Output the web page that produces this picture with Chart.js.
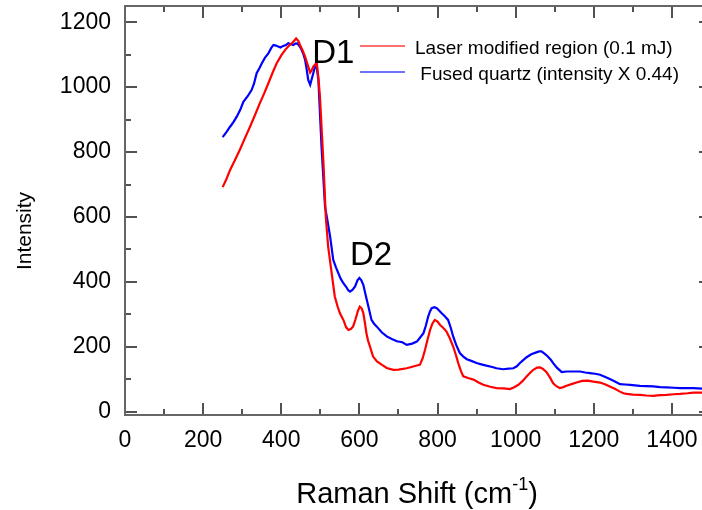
<!DOCTYPE html>
<html>
<head>
<meta charset="utf-8">
<script src="https://cdn.jsdelivr.net/npm/chart.js@4.4.0/dist/chart.umd.min.js"></script>
<style>
    html, body { margin: 0; padding: 0; background: #fff; overflow: hidden; }
    /* a little wider than the window: the right frame sits just off the picture */
    #wrap { width: 716px; height: 510px; position: relative; }
</style>
</head>
<body>
<div id="wrap"><canvas id="raman"></canvas></div>
<script>
// Series (Raman shift in cm-1, intensity)
const laserLabel = 'Laser modified region (0.1 mJ)';
const laserShift = [250, 260, 269, 280, 294, 307, 320, 333, 345, 356, 367, 378, 388, 400, 410, 420, 431, 438, 444, 448, 455, 461, 469, 474, 478, 482, 487, 491, 495, 499, 503, 508, 514, 520, 529, 537, 544, 550, 560, 566, 572, 578, 584, 590, 596, 601, 606, 610, 614, 618, 622, 627, 635, 645, 657, 670, 687, 700, 721, 740, 755, 762, 768, 775, 781, 787, 793, 800, 806, 815, 823, 832, 840, 847, 853, 860, 866, 880, 892, 905, 917, 935, 951, 970, 985, 995, 1007, 1018, 1028, 1037, 1045, 1055, 1062, 1070, 1079, 1088, 1096, 1105, 1113, 1122, 1130, 1145, 1156, 1170, 1185, 1199, 1216, 1230, 1241, 1255, 1267, 1276, 1284, 1300, 1318, 1335, 1352, 1370, 1386, 1405, 1421, 1440, 1455, 1477];
const laserIntensity = [692, 718, 745, 772, 807, 843, 878, 915, 950, 980, 1012, 1045, 1073, 1098, 1115, 1128, 1140, 1150, 1142, 1130, 1112, 1094, 1063, 1045, 1052, 1063, 1070, 1073, 1030, 971, 880, 766, 600, 509, 427, 355, 325, 304, 280, 260, 252, 255, 263, 285, 310, 324, 318, 304, 275, 242, 220, 201, 170, 155, 145, 135, 129, 130, 134, 140, 145, 165, 191, 225, 252, 272, 283, 278, 268, 258, 247, 225, 201, 175, 150, 125, 109, 103, 99, 90, 83, 77, 73, 72, 70, 75, 83, 95, 109, 120, 129, 136, 137, 132, 122, 105, 88, 78, 73, 76, 80, 86, 90, 95, 96, 93, 90, 84, 78, 70, 62, 57, 55, 53, 52, 50, 49, 51, 52, 54, 55, 57, 59, 59];

const quartzLabel = ' Fused quartz (intensity X 0.44)';
const quartzShift = [250, 260, 269, 278, 286, 295, 303, 314, 324, 330, 337, 344, 350, 358, 367, 374, 380, 386, 392, 398, 405, 412, 418, 425, 431, 436, 441, 447, 452, 457, 461, 465, 469, 474, 478, 482, 486, 489, 492, 495, 499, 503, 508, 512, 518, 525, 533, 540, 546, 552, 559, 566, 571, 576, 582, 589, 595, 600, 605, 610, 616, 623, 631, 637, 644, 657, 670, 683, 696, 710, 721, 735, 747, 755, 764, 770, 776, 781, 785, 792, 798, 804, 810, 818, 827, 834, 840, 848, 857, 866, 875, 888, 900, 912, 925, 940, 951, 968, 982, 994, 1003, 1011, 1020, 1028, 1040, 1053, 1060, 1066, 1073, 1081, 1090, 1096, 1106, 1118, 1130, 1139, 1152, 1165, 1178, 1190, 1203, 1216, 1228, 1241, 1254, 1267, 1280, 1293, 1318, 1335, 1352, 1370, 1386, 1405, 1421, 1440, 1455, 1477];
const quartzIntensity = [846, 862, 878, 893, 909, 930, 955, 972, 991, 1010, 1043, 1058, 1073, 1090, 1104, 1120, 1130, 1128, 1125, 1122, 1127, 1130, 1135, 1132, 1130, 1134, 1135, 1126, 1115, 1100, 1084, 1055, 1022, 1007, 1025, 1043, 1062, 1073, 1050, 1022, 920, 817, 714, 632, 591, 540, 468, 445, 427, 410, 396, 385, 375, 370, 375, 386, 405, 412, 405, 391, 360, 324, 283, 272, 263, 245, 232, 224, 217, 214, 206, 210, 216, 228, 242, 265, 293, 310, 319, 322, 319, 312, 304, 295, 283, 258, 232, 205, 181, 170, 162, 156, 150, 146, 142, 138, 134, 131, 133, 134, 140, 150, 160, 168, 177, 183, 186, 186, 180, 172, 160, 150, 135, 122, 124, 124, 124, 124, 121, 119, 117, 114, 108, 101, 93, 85, 84, 83, 80, 79, 78, 76, 75, 74, 73, 73, 73, 71];

const xTickValues = [0, 200, 400, 600, 800, 1000, 1200, 1400];
const yTickValues = [0, 200, 400, 600, 800, 1000, 1200];

const annotationText = ['D1', 'D2'];
const annotationShift = [479, 576];
const annotationIntensity = [1074, 452];

const pair = (xs, ys) => xs.map((x, i) => ({ x: x, y: ys[i] }));
const FONT = '"Liberation Sans", Arial, sans-serif';

// box with inward ticks on all four sides
const frameTicks = {
    id: 'frameTicks',
    afterDraw(chart) {
        const { ctx, chartArea: a, scales: { x, y } } = chart;
        ctx.save();
        ctx.strokeStyle = '#1a1a1a';
        ctx.lineWidth = 1.5;
        ctx.beginPath();
        for (let v = 0; v <= 1500; v += 100) {
            const px = Math.round(x.getPixelForValue(v));
            const len = v % 200 === 0 ? 12 : 6;
            ctx.moveTo(px, a.bottom); ctx.lineTo(px, a.bottom - len);
            ctx.moveTo(px, a.top); ctx.lineTo(px, a.top + len);
        }
        for (let v = 0; v <= 1200; v += 100) {
            const py = Math.round(y.getPixelForValue(v));
            const len = v % 200 === 0 ? 12 : 6;
            ctx.moveTo(a.left, py); ctx.lineTo(a.left + len, py);
            ctx.moveTo(a.right, py); ctx.lineTo(a.right - len, py);
        }
        ctx.stroke();
        ctx.strokeStyle = '#666';
        ctx.lineWidth = 2;
        ctx.strokeRect(a.left, a.top, a.right - a.left, a.bottom - a.top);
        ctx.restore();
    }
};

// legend, peak labels and axis titles
const labels = {
    id: 'labels',
    afterDraw(chart) {
        const { ctx, scales: { x, y } } = chart;
        ctx.save();
        ctx.fillStyle = '#000';
        ctx.textBaseline = 'alphabetic';

        chart.data.datasets.forEach((ds, i) => {
            const ly = 46 + i * 26;
            ctx.strokeStyle = ds.borderColor;
            ctx.globalAlpha = 0.75;
            ctx.lineWidth = 1.5;
            ctx.beginPath();
            ctx.moveTo(360, ly); ctx.lineTo(405, ly);
            ctx.stroke();
            ctx.globalAlpha = 1;
            ctx.font = '19px ' + FONT;
            ctx.textAlign = 'left';
            ctx.fillText(ds.label, 415, ly + 8);
        });

        ctx.font = '33px ' + FONT;
        annotationText.forEach((t, i) => {
            ctx.fillText(t, x.getPixelForValue(annotationShift[i]), y.getPixelForValue(annotationIntensity[i]));
        });

        // y title
        ctx.save();
        ctx.translate(31, 231);
        ctx.rotate(-Math.PI / 2);
        ctx.textAlign = 'center';
        ctx.font = '21px ' + FONT;
        ctx.fillText('Intensity', 0, 0);
        ctx.restore();

        // x title with superscript
        const big = '29px ' + FONT;
        const small = '18px ' + FONT;
        const base = 'Raman Shift (cm', sup = '-1', close = ')';
        ctx.font = big;
        const w1 = ctx.measureText(base).width, w3 = ctx.measureText(close).width;
        ctx.font = small;
        const w2 = ctx.measureText(sup).width;
        let tx = 417 - (w1 + w2 + w3) / 2;
        const by = 503;
        ctx.textAlign = 'left';
        ctx.font = big; ctx.fillText(base, tx, by); tx += w1;
        ctx.font = small; ctx.fillText(sup, tx, by - 13); tx += w2;
        ctx.font = big; ctx.fillText(close, tx, by);
        ctx.restore();
    }
};

new Chart(document.getElementById('raman'), {
    type: 'line',
    data: {
        datasets: [
            { label: laserLabel, data: pair(laserShift, laserIntensity), borderColor: '#ff0000', borderWidth: 2.2, pointRadius: 0, tension: 0, fill: false },
            { label: quartzLabel, data: pair(quartzShift, quartzIntensity), borderColor: '#0000ff', borderWidth: 2.2, pointRadius: 0, tension: 0, fill: false }
        ]
    },
    options: {
        responsive: true,
        maintainAspectRatio: false,
        animation: false,
        layout: { padding: { top: 6, right: 5, left: 0, bottom: 0 } },
        scales: {
            x: {
                type: 'linear', min: 0, max: 1500,
                afterBuildTicks: s => { s.ticks = xTickValues.map(v => ({ value: v })); },
                afterFit: s => { s.height = 95; s.paddingLeft = 0; s.paddingRight = 0; },
                grid: { display: false, drawTicks: false },
                border: { display: false },
                ticks: { color: '#000', padding: 12, maxRotation: 0, autoSkip: false, callback: v => String(v), font: { family: FONT, size: 23 } }
            },
            y: {
                type: 'linear', min: -10, max: 1250,
                afterBuildTicks: s => { s.ticks = yTickValues.map(v => ({ value: v })); },
                afterFit: s => { s.width = 125; s.paddingTop = 0; s.paddingBottom = 0; },
                grid: { display: false, drawTicks: false },
                border: { display: false },
                ticks: { color: '#000', padding: 14, callback: v => String(v), font: { family: FONT, size: 23 } }
            }
        },
        plugins: { legend: { display: false }, tooltip: { enabled: false } }
    },
    plugins: [frameTicks, labels]
});
</script>
</body>
</html>
